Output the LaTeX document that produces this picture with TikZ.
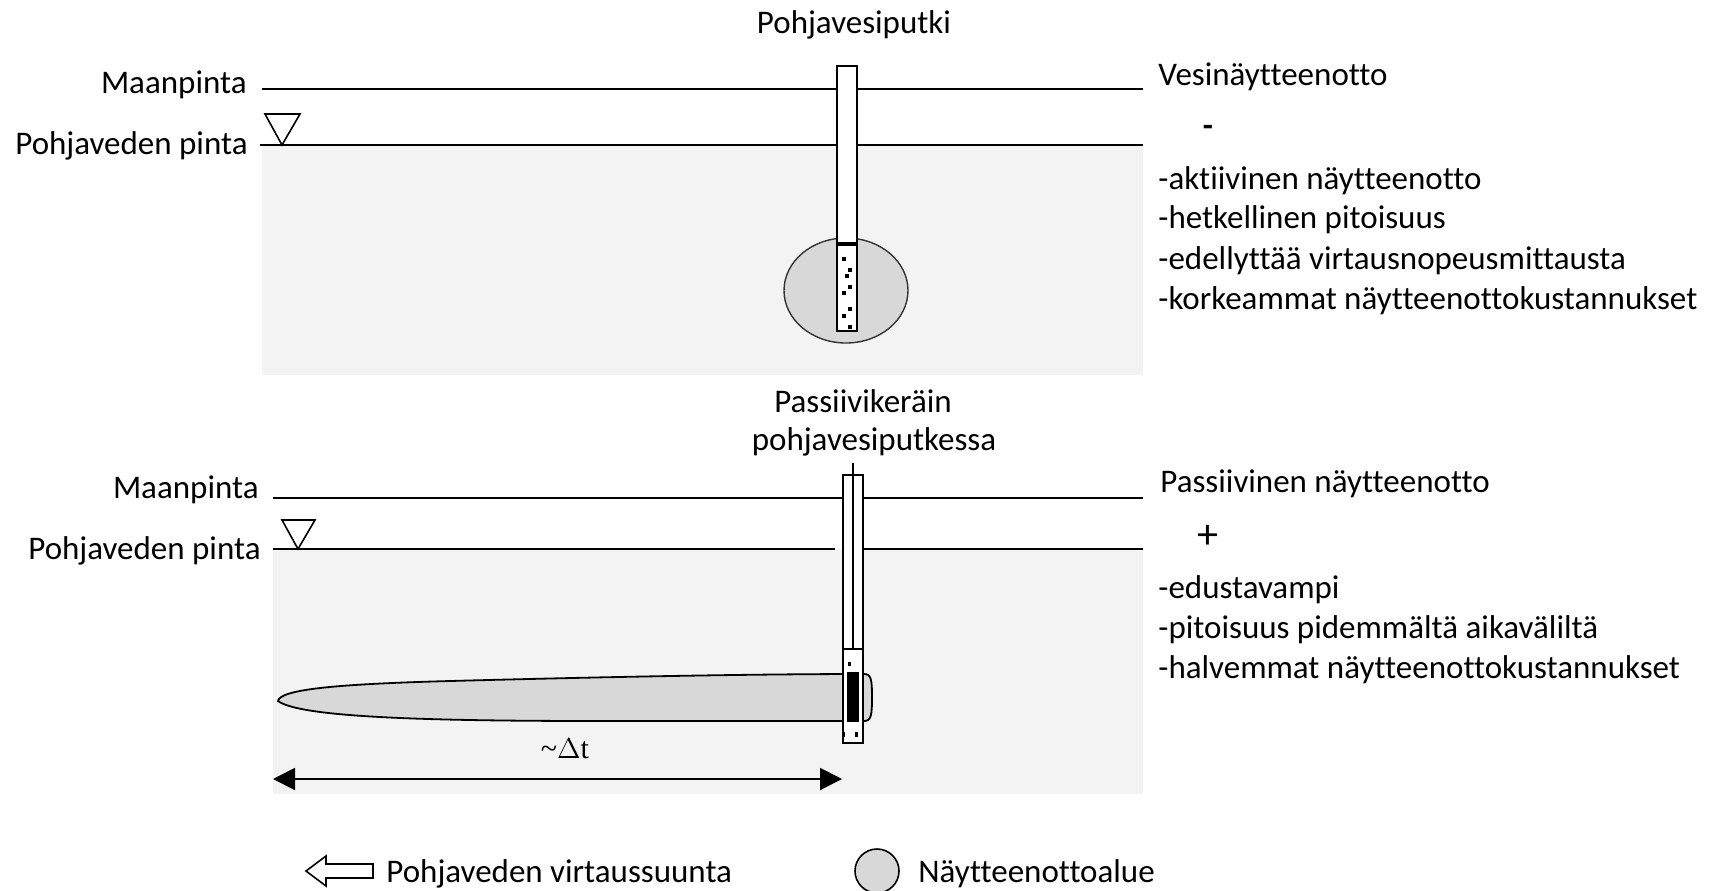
\documentclass[tikz,border=0pt]{standalone}
\usepackage{fontspec}
\setmainfont{Carlito}[Ligatures=NoCommon]
\newfontfamily\deltafont{Liberation Serif}
\usetikzlibrary{arrows.meta}
\definecolor{soil}{HTML}{F3F3F3}
\definecolor{zone}{HTML}{D8D8D8}
\begin{document}
\begin{tikzpicture}[x=0.5pt,y=-0.5pt,
  lbl/.style={font=\fontsize{16.5}{19}\selectfont, inner sep=0pt},
  ground/.style={line width=0.75pt},
  water/.style={line width=1.2pt},
  pipe/.style={draw, fill=white, line width=1pt}]
\useasboundingbox (0,0) rectangle (1713,890);

% ---------------- upper panel: water sampling ----------------
\fill[soil] (262,145) rectangle (1143,375);
\draw[ground] (262,89) -- (1143,89);
\draw[water] (260,145) -- (1143,145);
\draw[line width=0.8pt] (265,114) -- (300,114) -- (282,145) -- cycle;

\node[lbl, anchor=mid east] (gs1) at (247,89) {Maanpinta};
\node[lbl, anchor=mid east] (wt1) at (248,150) {Pohjaveden pinta};
\node[lbl] (well1) at (854,25) {Pohjavesiputki};

% sampling zone around the screen
\filldraw[fill=zone, draw=black!80, line width=0.7pt] (846,290.5) ellipse [x radius=62, y radius=52.5];
\draw[pipe] (837,66) rectangle (857,331);
\draw[line width=1.6pt] (837,244) -- (857,244);
\foreach \px/\py in {844/259,850/270,847/276,850/287,844/293,850/309,844/316,850/327}
  \fill (\px-1.6,\py-1.6) rectangle (\px+1.6,\py+1.6);

% method summary
\node[lbl, anchor=mid west] (m1) at (1158,81) {Vesinäytteenotto};
\node[lbl, font=\fontsize{16.5}{19}\selectfont\bfseries] (minus) at (1208,131) {-};
\node[lbl, anchor=mid west] (a1) at (1158,185) {-aktiivinen näytteenotto};
\node[lbl, anchor=mid west] (a2) at (1158,224) {-hetkellinen pitoisuus};
\node[lbl, anchor=mid west] (a3) at (1158,265) {-edellyttää virtausnopeusmittausta};
\node[lbl, anchor=mid west] (a4) at (1158,305) {-korkeammat näytteenottokustannukset};

% ---------------- lower panel: passive sampling ----------------
\fill[soil] (273,549) rectangle (1143,794);
\draw[line width=1pt] (273,498) -- (1143,498);
\draw[water] (273,549) -- (835,549);
\draw[water] (863,549) -- (1143,549);
\draw[line width=0.8pt] (282,520) -- (315,520) -- (298,549) -- cycle;

\node[lbl, anchor=mid east] (gs2) at (259,494) {Maanpinta};
\node[lbl, anchor=mid east] (wt2) at (261,555) {Pohjaveden pinta};
\node[lbl] (well2a) at (863,401) {Passiivikeräin};
\node[lbl] (well2b) at (874,442) {pohjavesiputkessa};

% elongated capture zone of the passive sampler
\filldraw[fill=zone, draw=black, line width=0.9pt]
  (278,701) .. controls (280,689) and (340,684) .. (450,681)
  .. controls (600,677) and (750,674) .. (864,674)
  .. controls (871,674) and (872,679) .. (872,697)
  .. controls (872,716) and (871,721) .. (864,721)
  -- (600,721) .. controls (420,721) and (300,717) .. (278,701) -- cycle;

\draw[pipe, line width=0.8pt] (843,475) rectangle (863,743);
\draw[line width=0.6pt] (853,463) -- (853,649);
\draw[line width=1.4pt] (843,649) -- (863,649);
\fill (847,672) rectangle (859,722);
\fill (848,662) rectangle (851,666);
\fill (842,732) rectangle (845,737);
\fill (855,732) rectangle (858,737);

% time span of the integrated sample
\coordinate (dtL) at (273,779);
\coordinate (dtR) at (842,779);
\draw[line width=1pt, {Triangle[length=11pt,width=11pt]}-{Triangle[length=11pt,width=11pt]}] (dtL) -- (dtR);
\node[inner sep=0pt, font=\fontsize{15}{18}\selectfont\deltafont] (dt) at (565,749) {\textasciitilde$\Delta$t};

\node[lbl, anchor=mid west] (m2) at (1160,488) {Passiivinen näytteenotto};
\node[lbl, font=\fontsize{21}{22}\selectfont] (plus) at (1208,537) {+};
\node[lbl, anchor=mid west] (b1) at (1158,594) {-edustavampi};
\node[lbl, anchor=mid west] (b2) at (1158,634) {-pitoisuus pidemmältä aikaväliltä};
\node[lbl, anchor=mid west] (b3) at (1158,674) {-halvemmat näytteenottokustannukset};

% ---------------- legend ----------------
\draw[line width=0.8pt, fill=white] (306,871) -- (326,856) -- (326,864) -- (373,864)
  -- (373,878) -- (326,878) -- (326,886) -- cycle;
\node[lbl, anchor=mid west] (flow) at (386,878) {Pohjaveden virtaussuunta};
\filldraw[fill=zone, draw=black, line width=0.8pt] (877,871) ellipse [x radius=22, y radius=22];
\node[lbl, anchor=mid west] (area) at (918,878) {Näytteenottoalue};
\end{tikzpicture}
\end{document}
